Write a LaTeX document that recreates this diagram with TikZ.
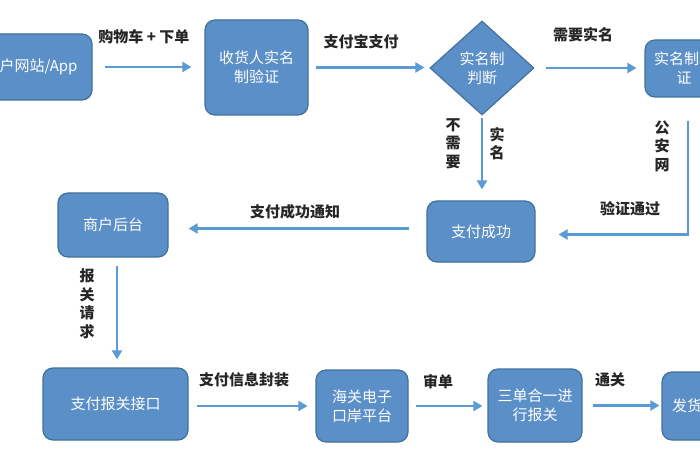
\documentclass[tikz,border=0pt]{standalone}
\usepackage{fontspec}
\setmainfont{Noto Sans CJK SC}
\usetikzlibrary{shapes.geometric,arrows.meta,calc}
\definecolor{boxfill}{HTML}{5B8FC8}
\definecolor{boxline}{HTML}{41719C}
\definecolor{arrowc}{HTML}{5B9BD5}
\begin{document}
\begin{tikzpicture}[x=1pt,y=-1pt,
  box/.style={draw=boxline, line width=1.2pt, fill=boxfill, rounded corners=10pt, text=white, align=center, font=\fontsize{15}{19}\selectfont, inner sep=0pt},
  lbl/.style={font=\fontsize{15}{18}\selectfont\bfseries, text=black!85, inner sep=0pt},
  vlbl/.style={lbl, align=center, font=\fontsize{15}{18.5}\selectfont\bfseries},
  arr/.style={draw=arrowc, line width=2.6pt, -{Triangle[length=9pt,width=10pt]}}]
\useasboundingbox (0,0) rectangle (700,470);
\fill[white] (0,0) rectangle (700,470);
% nodes
\node[box, minimum width=122pt, minimum height=66pt] (web) at (31,67) {商户网站/App};
\node[box, minimum width=103pt, minimum height=95pt] (verify) at (256.5,67.5) {收货人实名\\制验证};
\node[box, diamond, aspect=1.1, minimum width=104pt, minimum height=94pt, rounded corners=0pt] (judge) at (482,68) {实名制\\判断};
\node[box, minimum width=78pt, minimum height=57pt] (rn) at (684,68.5) {实名制验\\证};
\node[box, minimum width=108pt, minimum height=61pt] (ok) at (481,231.5) {支付成功};
\node[box, minimum width=110pt, minimum height=64pt] (hub) at (113,225) {商户后台};
\node[box, minimum width=145pt, minimum height=72pt] (iface) at (115.5,404) {支付报关接口};
\node[box, minimum width=92pt, minimum height=72pt] (port) at (362,406) {海关电子\\口岸平台};
\node[box, minimum width=94pt, minimum height=73pt] (three) at (535,405.5) {三单合一进\\行报关};
\node[box, minimum width=50pt, minimum height=68pt] (ship) at (687,406) {发货};
% connectors
\draw[arr, shorten <=12pt, shorten >=13pt] (web.east) -- (web.east -| verify.west);
\draw[arr, shorten <=7pt, shorten >=5pt] (verify.east) -- (verify.east -| judge.west);
\draw[arr, shorten <=11pt, shorten >=8pt] (judge.east) -- (judge.east -| rn.west);
\draw[arr, shorten <=2pt, shorten >=11pt] (judge.south) -- (judge.south |- ok.north);
\draw[arr, shorten <=23pt, shorten >=23pt] ([xshift=4pt]rn.south) |- ([yshift=-3pt]ok.east);
\draw[arr, shorten <=17pt, shorten >=20pt] ([yshift=3pt]ok.west) -- ([yshift=3pt]ok.west -| hub.east);
\draw[arr, shorten <=8pt, shorten >=8pt] ([xshift=4pt]hub.south) -- ([xshift=4pt]hub.south |- iface.north);
\draw[arr, shorten <=8pt, shorten >=8pt] ([yshift=-2pt]iface.east) -- ([yshift=-2pt]iface.east -| port.west);
\draw[arr, shorten <=7pt, shorten >=5pt] (port.east) -- (port.east -| three.west);
\draw[arr, shorten <=10pt, shorten >=2pt] (three.east) -- (three.east -| ship.west);
% labels
\node[lbl] (l1) at (144,37) {购物车 + 下单};
\node[lbl] (l2) at (361,42) {支付宝支付};
\node[lbl] (l3) at (583,35) {需要实名};
\node[vlbl] (l4) at (453,143.5) {不\\需\\要};
\node[vlbl] (l5) at (497,143.5) {实\\名};
\node[vlbl] (l6) at (662,146) {公\\安\\网};
\node[lbl] (l7) at (630,209) {验证通过};
\node[lbl] (l8) at (295,212) {支付成功通知};
\node[vlbl] (l9) at (87,304) {报\\关\\请\\求};
\node[lbl] (l10) at (244,380) {支付信息封装};
\node[lbl] (l11) at (438,382) {审单};
\node[lbl] (l12) at (610,380) {通关};
\end{tikzpicture}
\end{document}
